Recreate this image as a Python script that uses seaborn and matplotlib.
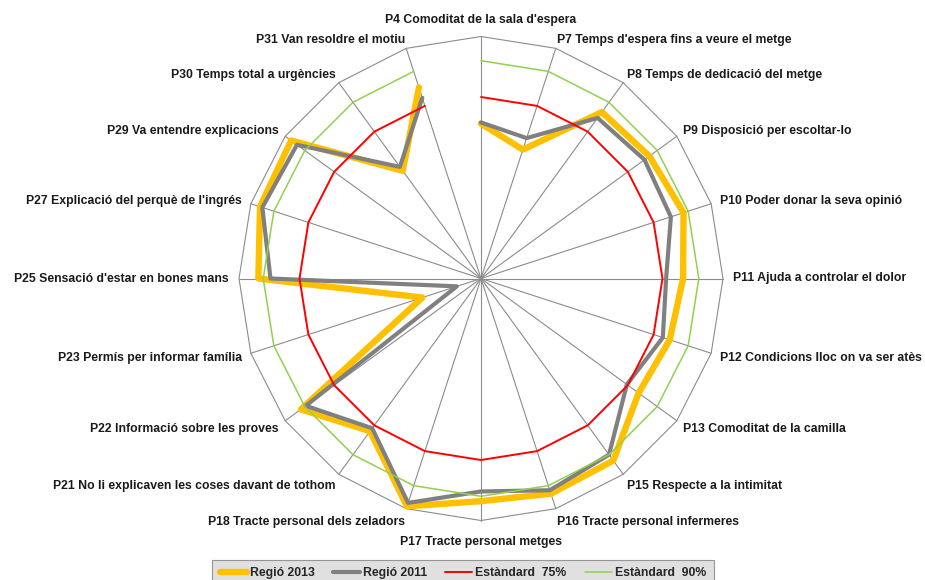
import numpy as np
import pandas as pd
import seaborn as sns
import matplotlib.pyplot as plt
from matplotlib.lines import Line2D

# questions (clockwise from the top)
preguntes = ["P4 Comoditat de la sala d'espera",
             "P7 Temps d'espera fins a veure el metge",
             "P8 Temps de dedicació del metge",
             "P9 Disposició per escoltar-lo",
             "P10 Poder donar la seva opinió",
             "P11 Ajuda a controlar el dolor",
             "P12 Condicions lloc on va ser atès",
             "P13 Comoditat de la camilla",
             "P15 Respecte a la intimitat",
             "P16 Tracte personal infermeres",
             "P17 Tracte personal metges",
             "P18 Tracte personal dels zeladors",
             "P21 No li explicaven les coses davant de tothom",
             "P22 Informació sobre les proves",
             "P23 Permís per informar família",
             "P25 Sensació d'estar en bones mans",
             "P27 Explicació del perquè de l'ingrés",
             "P29 Va entendre explicacions",
             "P30 Temps total a urgències",
             "P31 Van resoldre el motiu"]

regio_2013 = [64, 56, 85, 86, 88, 83.5, 82, 80.5, 93, 93.5, 92, 99, 78, 92, 25.5, 92, 96, 97, 55, 83]
regio_2011 = [64.5, 61, 82, 83.5, 82.5, 76.5, 79, 74.5, 90, 92, 88, 97.5, 76.5, 89.5, 10.5, 87, 95, 94, 57, 78.5]
estandard_75 = [75] * 20
estandard_90 = [90] * 20

series = ["Regió 2013", "Regió 2011", "Estàndard  75%", "Estàndard  90%"]
colors = ["#FFC000", "#808080", "#FF0000", "#92D050"]
widths = [4.6, 3.0, 1.4, 1.1]

sns.set_style("white")
plt.rcParams['font.family'] = ['Liberation Sans', 'DejaVu Sans']
fs = 8.8

n = len(preguntes)
theta = np.linspace(0, 2 * np.pi, n, endpoint=False)
theta_c = np.append(theta, theta[0])

fig = plt.figure(figsize=(9.25, 5.8), dpi=100)
R = 242
cx, cy = 481, 278.5
ax = fig.add_axes([(cx - R) / 925, (580 - cy - R) / 580, 2 * R / 925, 2 * R / 580],
                  projection='polar')
ax.set_theta_zero_location('N')
ax.set_theta_direction(-1)
ax.set_ylim(0, 100)
ax.set_xticks([])
ax.set_yticks([])
ax.grid(False)
ax.spines['polar'].set_visible(False)

# spokes + outer polygon
for t in theta:
    ax.plot([t, t], [0, 100], color="#8c8c8c", lw=0.8, zorder=1)
ax.plot(theta_c, [100] * (n + 1), color="#8c8c8c", lw=0.8, zorder=1, clip_on=False)

valors = [regio_2013, regio_2011, estandard_75, estandard_90]
for i, (nom, vals) in enumerate(zip(series, valors)):
    df = pd.DataFrame({"theta": theta_c, "valor": list(vals) + [vals[0]]})
    sns.lineplot(data=df, x="theta", y="valor", sort=False, color=colors[i],
                 linewidth=widths[i], ax=ax, zorder=2 + i)
for l in ax.lines:
    l.set_clip_on(False)
ax.set_xlabel("")
ax.set_ylabel("")

# labels around the radar (excel-like placement)
for t, lab in zip(theta, preguntes):
    s, c = np.sin(t), np.cos(t)
    if abs(s) < 0.01:
        ha = "center"
        va = "bottom" if c > 0 else "top"
        off = (0, 11 if c > 0 else -15)
    else:
        ha = "left" if s > 0 else "right"
        va = "center"
        dy = 9 * c if c > 0 else 14 * c
        off = (10 * s * abs(s), dy)
    ax.annotate(lab, xy=(t, 100), xytext=off, textcoords="offset pixels",
                ha=ha, va=va, fontsize=fs, fontweight="bold", color="#1a1a1a",
                annotation_clip=False)

handles = [Line2D([], [], color=colors[i], lw=widths[i]) for i in range(4)]
leg = fig.legend(handles, series, loc="upper center", ncol=4,
                 bbox_to_anchor=(463 / 925, 1 - 560 / 580),
                 frameon=True, fancybox=False,
                 prop={"weight": "bold", "size": fs},
                 handlelength=2.2, handletextpad=0.25, columnspacing=1.5,
                 borderpad=0.6, borderaxespad=0)
leg.get_frame().set_facecolor("#d9d9d9")
leg.get_frame().set_edgecolor("#808080")
leg.get_frame().set_linewidth(0.8)

fig.savefig("out.png", dpi=100)
